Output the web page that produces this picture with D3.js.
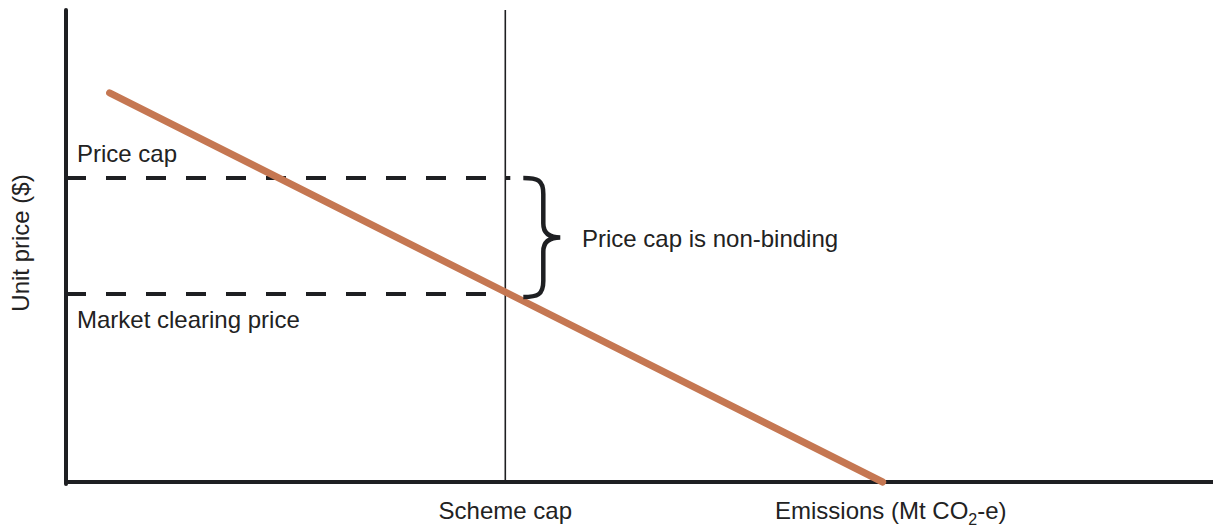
<!DOCTYPE html>
<html><head><meta charset="utf-8">
<script src="https://cdn.jsdelivr.net/npm/d3@7"></script>
<style>body{margin:0;background:#fff}text{font-family:"Liberation Sans",Arial,sans-serif;fill:#222}</style>
</head><body><svg id="c" width="1213" height="530"></svg>
<script>
const demandX = [3.8, 71.2];
const demandY = [82.8, 0];
const schemeCap = 38.3;
const priceLevels = [64.7, 40.0];
const priceLabels = ["Price cap", "Market clearing price"];
const braceLabel = "Price cap is non-binding";
const xTickLabel = "Scheme cap";

const svg = d3.select("#c");
const x = d3.scaleLinear().domain([0, 100]).range([66, 1213]);
const y = d3.scaleLinear().domain([0, 100]).range([482, 12]);
const ink = "#1e1f22";
const fs = 24;

// axes
svg.append("line").attr("x1", x(0)).attr("x2", x(0)).attr("y1", y(100) - 2).attr("y2", y(0) + 2)
  .attr("stroke", ink).attr("stroke-width", 4).attr("stroke-linecap", "round");
svg.append("line").attr("x1", x(0)).attr("x2", x(100)).attr("y1", y(0)).attr("y2", y(0))
  .attr("stroke", ink).attr("stroke-width", 4);

// scheme cap line
svg.append("line").attr("x1", x(schemeCap)).attr("x2", x(schemeCap)).attr("y1", y(100) - 2).attr("y2", y(0))
  .attr("stroke", ink).attr("stroke-width", 1.6);

// dashed price lines
svg.selectAll(".pl").data(priceLevels).enter().append("line")
  .attr("x1", x(0)).attr("x2", x(schemeCap) + 5)
  .attr("y1", d => y(d)).attr("y2", d => y(d))
  .attr("stroke", ink).attr("stroke-width", 4).attr("stroke-dasharray", "20,20");

// demand line
const pts = demandX.map((v, i) => [x(v), y(demandY[i])]);
svg.append("path").attr("d", d3.line()(pts)).attr("stroke", "#c57752").attr("stroke-width", 7)
  .attr("stroke-linecap", "round").attr("fill", "none");

// labels
svg.append("text").attr("x", 77).attr("y", y(priceLevels[0]) - 16).attr("font-size", fs).text(priceLabels[0]);
svg.append("text").attr("x", 77).attr("y", y(priceLevels[1]) + 34).attr("font-size", fs).text(priceLabels[1]);

// brace
const yt = y(priceLevels[0]), yb = y(priceLevels[1]) + 3, ym = (yt + yb) / 2;
const bx = x(schemeCap) + 18;
const bp = `M${bx},${yt} C${bx+14},${yt} ${bx+20},${yt+2} ${bx+20},${yt+16} L${bx+20},${ym-14} C${bx+20},${ym-4} ${bx+26},${ym} ${bx+37},${ym}` +
  ` C${bx+26},${ym} ${bx+20},${ym+4} ${bx+20},${ym+14} L${bx+20},${yb-16} C${bx+20},${yb-2} ${bx+14},${yb} ${bx},${yb}`;
svg.append("path").attr("d", bp).attr("fill", "none").attr("stroke", ink).attr("stroke-width", 4.5);
svg.append("text").attr("x", 582).attr("y", 247).attr("font-size", fs).text(braceLabel);

// axis texts
svg.append("text").attr("x", x(schemeCap)).attr("y", 519).attr("font-size", fs).attr("text-anchor", "middle").text(xTickLabel);
const t = svg.append("text").attr("x", 775).attr("y", 519).attr("font-size", fs);
t.append("tspan").text("Emissions (Mt CO");
t.append("tspan").attr("font-size", 16).attr("dy", 6).text("2");
t.append("tspan").attr("dy", -6).text("-e)");
svg.append("text").attr("transform", "translate(29,243) rotate(-90)").attr("text-anchor", "middle").attr("font-size", fs).text("Unit price ($)");
</script></body></html>
